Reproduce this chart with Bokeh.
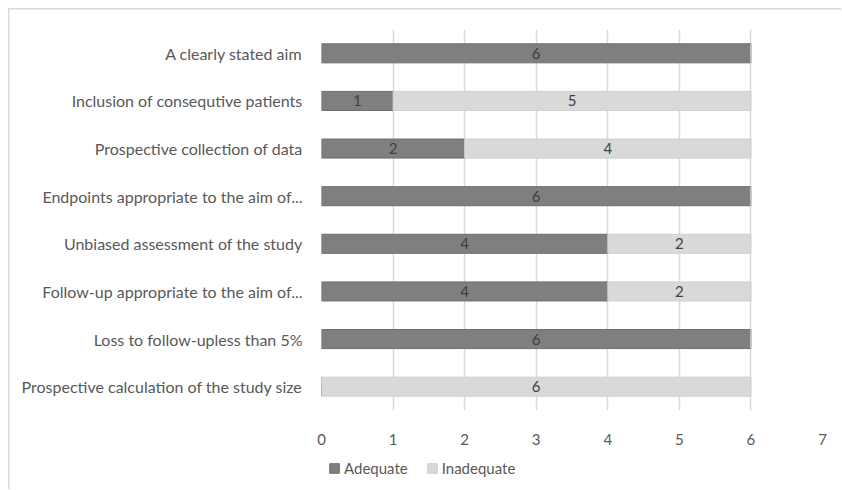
from bokeh.plotting import figure
from bokeh.layouts import column
from bokeh.models import ColumnDataSource, FactorRange, Range1d, Legend, LegendItem, FixedTicker
from bokeh.embed import file_html
from bokeh.resources import INLINE
from bokeh.core.properties import value

categories = [
    "A clearly stated aim",
    "Inclusion of consequtive patients",
    "Prospective collection of data",
    "Endpoints appropriate to the aim of...",
    "Unbiased assessment of the study",
    "Follow-up appropriate to the aim of...",
    "Loss to follow-upless than 5%",
    "Prospective calculation of the study size",
]
series = ["Adequate", "Inadequate"]
adequate = [6, 1, 2, 6, 4, 4, 6, 0]
inadequate = [0, 5, 4, 0, 2, 2, 0, 6]
x_ticks = [0, 1, 2, 3, 4, 5, 6, 7]

DARK = "#7f7f7f"
LIGHT = "#d9d9d9"
TXT = "#595959"
FONT = "Lato"
colors = [DARK, LIGHT]
outlines = ["#6e6e6e", "#cfcfcf"]

src = ColumnDataSource(dict(cat=categories, Adequate=adequate, Inadequate=inadequate))

p = figure(width=841, height=455, output_backend="svg", toolbar_location=None,
           y_range=FactorRange(factors=list(reversed(categories))),
           x_range=Range1d(0, 7),
           min_border_left=321, min_border_right=19, min_border_top=29, min_border_bottom=45)
p.outline_line_color = None
p.border_fill_alpha = 0

r = p.hbar_stack(series, y="cat", height=0.4, source=src,
                 color=colors, line_color=outlines, line_width=1)

# value labels in the middle of each segment
lx, ly, lt = [], [], []
for c, a, i in zip(categories, adequate, inadequate):
    if a > 0:
        lx.append(a / 2); ly.append(c); lt.append(str(a))
    if i > 0:
        lx.append(a + i / 2); ly.append(c); lt.append(str(i))
p.text(x=lx, y=ly, text=lt, text_align="center", text_baseline="middle",
       text_font=value(FONT), text_font_size="15px", text_color="#404040")

p.xgrid.ticker = FixedTicker(ticks=x_ticks)
p.xgrid.grid_line_color = "#d9d9d9"
p.xgrid.grid_line_width = 1.5
p.ygrid.grid_line_color = None

p.xaxis.ticker = FixedTicker(ticks=x_ticks)
p.xaxis.axis_line_color = None
p.xaxis.major_tick_line_color = None
p.xaxis.minor_tick_line_color = None
p.xaxis.major_label_standoff = 17
p.xaxis.major_label_text_font = FONT
p.xaxis.major_label_text_font_size = "15px"
p.xaxis.major_label_text_color = TXT

p.yaxis.axis_line_color = None
p.yaxis.major_tick_line_color = None
p.yaxis.minor_tick_line_color = None
p.yaxis.major_label_standoff = 13
p.yaxis.major_label_text_font = FONT
p.yaxis.major_label_text_font_size = "16px"
p.yaxis.major_label_text_color = TXT

# legend strip below the chart (its frame is aligned with the main frame by the column)
p2 = figure(width=841, height=34, output_backend="svg", toolbar_location=None,
            x_range=Range1d(0, 1), y_range=Range1d(0, 1),
            min_border=0, min_border_left=0, min_border_right=0,
            min_border_top=0, min_border_bottom=0)
p2.axis.visible = False
p2.grid.visible = False
p2.outline_line_color = None
p2.border_fill_alpha = 0
p2.background_fill_alpha = 0
# swatch renderers for the legend only (placed outside the visible range)
lr = [p2.quad(left=[5], right=[6], top=[6], bottom=[5], fill_color=c, line_color=o)
      for c, o in zip(colors, outlines)]

legend = Legend(items=[LegendItem(label=s, renderers=[g], index=0) for s, g in zip(series, lr)],
                orientation="horizontal", location=(7, 12),
                label_text_font=FONT, label_text_font_size="15px", label_text_color=TXT,
                glyph_width=12, glyph_height=12, label_standoff=4, spacing=18,
                border_line_color=None, background_fill_alpha=0, padding=0, margin=0,
                label_height=14)
p2.add_layout(legend, "center")

layout = column(p, p2, spacing=0)
layout.styles = {
    "background": "linear-gradient(#d9d9d9,#d9d9d9) 8px 8px / 840px 1.5px no-repeat, "
                  "linear-gradient(#d9d9d9,#d9d9d9) 8px 8px / 1.5px 490px no-repeat, white"
}

open("out.html", "w").write(file_html(layout, INLINE))
